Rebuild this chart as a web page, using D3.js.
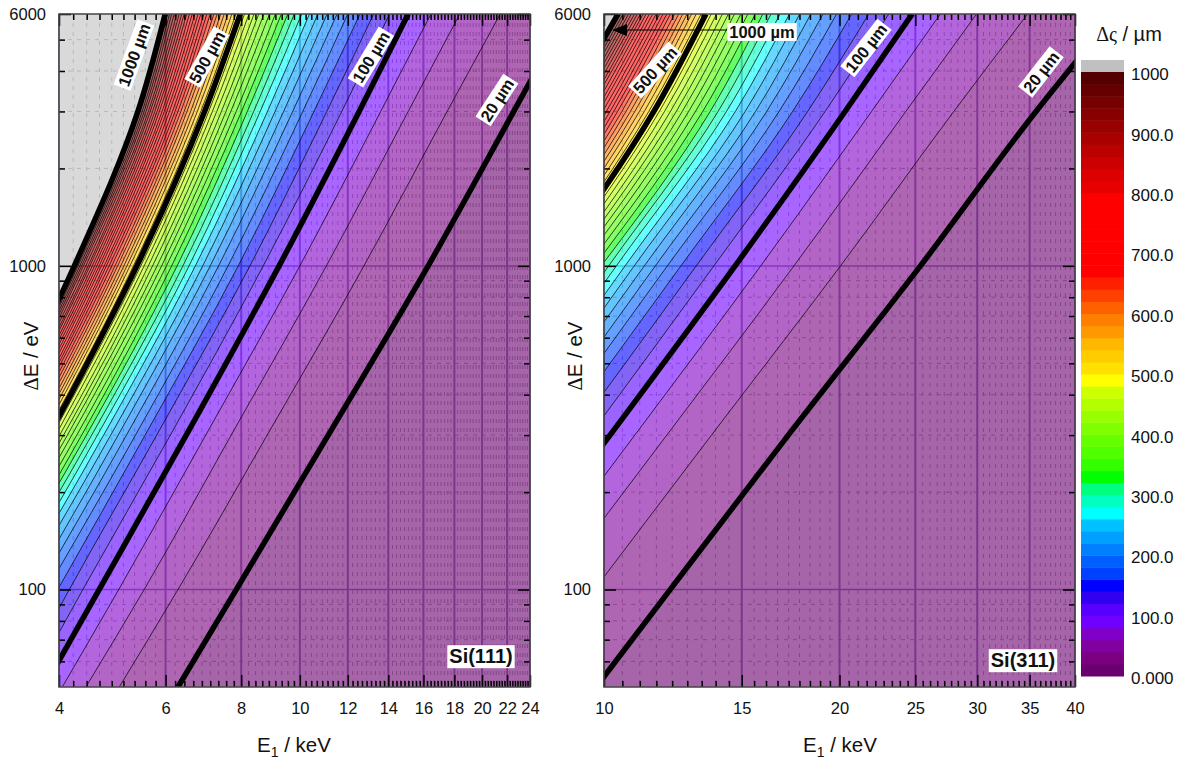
<!DOCTYPE html>
<html>
<head>
<meta charset="utf-8">
<script src="https://cdnjs.cloudflare.com/ajax/libs/d3/7.8.5/d3.min.js"></script>
<style>
    body { margin: 0; background: white; }
    text { font-family: Arial, "Liberation Sans", sans-serif; fill: #111; }
</style>
</head>
<body>
<div id="chart"></div>
<script>
// contour levels, um
const levels = [20,40,60,80,100,120,140,160,180,200,220,240,260,280,300,320,340,360,380,400,
    420,440,460,480,500,520,540,560,580,600,620,640,660,680,700,720,740,760,780,800,
    820,840,860,880,900,920,940,960,980,1000];
const thickLevels = [20, 100, 500, 1000];

// E1 (keV) where each contour crosses a given dE (eV).
// Same order as levels. Shorter arrays: the contour has already left the frame.
const si111At6000 = [27.66,21.43,18.37,16.46,15.10,14.07,13.24,12.57,12.00,11.52,11.09,10.71,10.37,10.07,9.79,9.55,9.32,9.11,8.91,8.72,
    8.55,8.40,8.24,8.10,7.97,7.84,7.72,7.61,7.50,7.40,7.30,7.21,7.11,7.02,6.94,6.86,6.79,6.71,6.64,6.57,
    6.50,6.44,6.38,6.32,6.26,6.20,6.14,6.09,6.04,5.99];
const si111At3000 = [22.56,17.51,15.10,13.60,12.53,11.73,11.08,10.55,10.11,9.73,9.40,9.10,8.84,8.60,8.39,8.19,8.01,7.85,7.69,7.55,
    7.42,7.29,7.17,7.07,6.96,6.86,6.77,6.68,6.60,6.51,6.44,6.36,6.29,6.22,6.16,6.09,6.03,5.97,5.92,5.86,
    5.81,5.76,5.71,5.66,5.62,5.57,5.53,5.49,5.44,5.40];
const si111At1000 = [16.29,12.76,11.06,10.00,9.24,8.70,8.27,7.91,7.61,7.34,7.11,6.91,6.72,6.56,6.41,6.27,6.14,6.02,5.91,5.81,
    5.71,5.62,5.53,5.46,5.38,5.31,5.24,5.18,5.12,5.06,5.00,4.95,4.89,4.84,4.79,4.75,4.70,4.66,4.62,4.58,
    4.54,4.50,4.47,4.43,4.39,4.36,4.33,4.30,4.27,4.24];
const si111At300 = [11.14,8.83,7.70,6.99,6.49,6.11,5.80,5.55,5.35,5.17,5.01,4.87,4.74,4.63,4.53,4.44,4.36,4.28,4.20,4.13,
    4.07,4.01,3.95,3.90,3.85,3.80,3.76,3.72,3.68,3.64,3.60,3.56,3.53,3.49,3.47,3.44,3.41,3.38,3.35,3.32,
    3.30,3.27,3.25,3.23,3.21,3.18,3.16,3.14,3.12,3.10];
const si111At100 = [7.85,6.29,5.53,5.02,4.66,4.38,4.16,3.98,3.82,3.69,3.58,3.47,3.38,3.30,3.22,3.15,3.09,3.03,2.98,2.93,2.88,2.83];
const si111At50 = [6.29,5.03,4.43,4.05,3.78,3.57,3.40];

const si311At6000 = [44.99,34.79,29.94,26.91,24.77,23.12,21.80,20.73,19.83,19.05,18.38,17.79,17.26,16.79,16.35,15.96,15.61,15.27,14.96,14.68,
    14.42,14.17,13.93,13.71,13.50,13.31,13.12,12.94,12.77,12.61,12.46,12.31,12.16,12.03,11.90,11.78,11.66,11.54,11.43,11.32,
    11.22,11.13,11.03,10.94,10.84,10.75,10.66,10.58,10.50,10.42];
const si311At3000 = [35.66,28.00,24.31,21.98,20.33,19.17,18.21,17.42,16.74,16.14,15.62,15.15,14.72,14.34,13.99,13.67,13.37,13.09,12.83,12.59,
    12.37,12.16,11.95,11.77,11.58,11.41,11.26,11.10,10.95,10.81,10.67,10.54,10.41,10.29,10.18,10.07,9.96,9.85,9.76,9.66,
    9.56,9.48,9.39,9.30,9.22,9.14,9.06,8.98,8.91,8.84];
const si311At1000 = [25.38,20.06,17.49,15.86,14.71,13.82,13.12,12.54,12.05,11.63,11.26,10.93,10.64,10.37,10.14,9.92,9.72,9.53,9.35,9.19,
    9.04,8.91,8.77,8.65,8.52,8.41,8.31,8.20,8.11,8.01,7.93,7.84,7.76,7.68,7.61,7.53,7.46,7.40,7.33,7.27,
    7.21,7.15,7.10,7.04,6.99,6.93,6.88,6.84,6.79,6.74];
const si311At300 = [17.20,13.72,12.03,10.95,10.18,9.59,9.12,8.73,8.40,8.12,7.87,7.65,7.45,7.28,7.12];
const si311At100 = [12.15,9.72,8.53,7.78,7.23];
const si311At50 = [9.77];

const deltaERows = [6000, 3000, 1000, 300, 100, 50];

// one colour per 20 um step, bottom of the colour bar first
const bandColors = ['#6a0070','#7a0080','#8000a0','#8000c8','#7000ff','#5800ff','#3000f0','#0000ff','#0040ff','#0060ff',
    '#0080ff','#00a0ff','#00c0ff','#00ffff','#00ffc0','#00ff80','#00ff00','#33ff00','#50ff00','#66ff00',
    '#80ff00','#99ff00','#b3ff00','#ccff00','#ffff00','#ffe000','#ffcc00','#ffb800','#ff9900','#ff8000',
    '#ff6000','#ff4000','#ff2000','#ff0000','#ff0000','#ff0000','#ff0000','#ff0000','#ff0000','#ff0000',
    '#e60000','#dd0000','#cc0000','#bb0000','#aa0000','#990000','#880000','#770000','#660000','#550000'];
const overColor = '#c0c0c0';

const colorTicks = [0, 100, 200, 300, 400, 500, 600, 700, 800, 900, 1000];
const colorTickLabels = ['0.000','100.0','200.0','300.0','400.0','500.0','600.0','700.0','800.0','900.0','1000'];

const yMajor = [1000, 100];
const yLabeled = [6000, 1000, 100];
const yMinor = [5000,4000,3000,2000,900,800,700,600,500,400,300,200,90,80,70,60];

const si111Major = [4,6,8,10,12,14,16,18,20,22,24];
const si311Major = [10,15,20,25,30,35,40];

const svgWidth = 1185, svgHeight = 762;
const plotTop = 14, plotBottom = 687;

const svg = d3.select('#chart').append('svg')
    .attr('width', svgWidth)
    .attr('height', svgHeight);

function minorBetween(major) {
    // 8 minor ticks between two labelled ones
    let out = [];
    for (let i = 0; i < major.length - 1; i++) {
        for (let k = 1; k < 9; k++) {
            out.push(major[i] + (major[i+1] - major[i]) * k / 9);
        }
    }
    return out;
}

function drawPanel(p) {
    const x = d3.scaleLog().domain(p.xDomain).range([p.left, p.right]);
    const y = d3.scaleLog().domain([50, 6000]).range([plotBottom, plotTop]);
    const g = svg.append('g');
    const xMinor = minorBetween(p.xMajor);

    g.append('clipPath').attr('id', p.id)
        .append('rect')
        .attr('x', p.left).attr('y', plotTop)
        .attr('width', p.right - p.left).attr('height', plotBottom - plotTop);

    // grid sits under the translucent colour fill
    const grid = g.append('g');
    grid.selectAll('.vminor').data(xMinor).enter().append('line')
        .attr('x1', d => x(d)).attr('x2', d => x(d)).attr('y1', plotTop).attr('y2', plotBottom)
        .attr('stroke', '#b0b0b0').attr('stroke-dasharray', '4 5');
    grid.selectAll('.hminor').data(yMinor).enter().append('line')
        .attr('y1', d => y(d)).attr('y2', d => y(d)).attr('x1', p.left).attr('x2', p.right)
        .attr('stroke', '#b0b0b0').attr('stroke-dasharray', '4 5');
    grid.selectAll('.vmajor').data(p.xMajor).enter().append('line')
        .attr('x1', d => x(d)).attr('x2', d => x(d)).attr('y1', plotTop).attr('y2', plotBottom)
        .attr('stroke', '#9488b4').attr('stroke-width', 2);
    grid.selectAll('.hmajor').data(yMajor).enter().append('line')
        .attr('y1', d => y(d)).attr('y2', d => y(d)).attr('x1', p.left).attr('x2', p.right)
        .attr('stroke', '#9488b4').attr('stroke-width', 1.5);

    // contour polylines, one per level
    const contours = levels.map((level, i) => {
        const pts = [];
        p.rows.forEach((row, r) => {
            if (row[i] !== undefined) pts.push([row[i], deltaERows[r]]);
        });
        return { level: level, pts: pts };
    });

    const line = d3.line()
        .x(d => x(d[0]))
        .y(d => y(d[1]))
        .curve(d3.curveMonotoneY);

    const plot = g.append('g').attr('clip-path', 'url(#' + p.id + ')');

    // painted low to high, each level covers everything up and left of it
    const fills = plot.append('g').attr('opacity', 0.6);
    fills.append('rect')
        .attr('x', p.left).attr('y', plotTop)
        .attr('width', p.right - p.left).attr('height', plotBottom - plotTop)
        .attr('fill', bandColors[0]);
    fills.selectAll('path').data(contours).enter().append('path')
        .attr('d', d => {
            const last = d.pts[d.pts.length - 1];
            return line(d.pts) + 'L' + (p.left - 300) + ',' + y(last[1]) + 'L' + (p.left - 300) + ',' + y(6000) + 'Z';
        })
        .attr('fill', (d, i) => i + 1 < bandColors.length ? bandColors[i + 1] : overColor);

    plot.selectAll('.thin').data(contours.filter(d => !thickLevels.includes(d.level))).enter().append('path')
        .attr('d', d => line(d.pts))
        .attr('fill', 'none').attr('stroke', '#000').attr('stroke-width', 1).attr('stroke-opacity', 0.72);
    plot.selectAll('.thick').data(contours.filter(d => thickLevels.includes(d.level))).enter().append('path')
        .attr('d', d => line(d.pts))
        .attr('fill', 'none').attr('stroke', '#000').attr('stroke-width', 5.5);

    // ticks on all four sides, pointing inward
    const ax = g.append('g');
    const place = (axis, tx, ty) => ax.append('g')
        .attr('transform', 'translate(' + tx + ',' + ty + ')')
        .call(axis)
        .call(s => s.select('.domain').remove());

    place(d3.axisBottom(x).tickValues(p.xMajor).tickFormat(d3.format('d')).tickSizeInner(-12).tickSizeOuter(0).tickPadding(15), 0, plotBottom);
    place(d3.axisBottom(x).tickValues(xMinor).tickFormat('').tickSizeInner(-6).tickSizeOuter(0), 0, plotBottom);
    place(d3.axisTop(x).tickValues(p.xMajor).tickFormat('').tickSizeInner(-12).tickSizeOuter(0), 0, plotTop);
    place(d3.axisTop(x).tickValues(xMinor).tickFormat('').tickSizeInner(-6).tickSizeOuter(0), 0, plotTop);
    place(d3.axisLeft(y).tickValues(yLabeled).tickFormat(d3.format('d')).tickSizeInner(-12).tickSizeOuter(0).tickPadding(13), p.left, 0);
    place(d3.axisLeft(y).tickValues(yMinor).tickFormat('').tickSizeInner(-6).tickSizeOuter(0), p.left, 0);
    place(d3.axisRight(y).tickValues(yLabeled).tickFormat('').tickSizeInner(-12).tickSizeOuter(0), p.right, 0);
    place(d3.axisRight(y).tickValues(yMinor).tickFormat('').tickSizeInner(-6).tickSizeOuter(0), p.right, 0);
    ax.selectAll('.tick line').attr('stroke', '#000').attr('stroke-width', 1.5);
    ax.selectAll('text').attr('font-size', 16.5).attr('font-family', 'Arial, "Liberation Sans", sans-serif').attr('fill', '#111');

    g.append('rect')
        .attr('x', p.left).attr('y', plotTop)
        .attr('width', p.right - p.left).attr('height', plotBottom - plotTop)
        .attr('fill', 'none').attr('stroke', '#444').attr('stroke-width', 1.5);

    // axis titles
    const xTitle = g.append('text')
        .attr('x', p.xTitleX).attr('y', 752)
        .attr('text-anchor', 'middle').attr('font-size', 20.5);
    xTitle.append('tspan').text('E');
    xTitle.append('tspan').attr('dy', 5).attr('font-size', 14).text('1');
    xTitle.append('tspan').attr('dy', -5).text(' / keV');

    const yTitle = g.append('text')
        .attr('transform', 'translate(' + p.yTitleX + ',356) rotate(-90)')
        .attr('text-anchor', 'middle').attr('font-size', 20.5);
    yTitle.append('tspan').attr('font-family', '"Liberation Serif", serif').text('\u0394');
    yTitle.append('tspan').text('E / eV');

    // contour labels on white boxes
    p.labels.forEach(l => {
        const t = g.append('g').attr('transform', 'translate(' + l.x + ',' + l.y + ') rotate(' + l.angle + ')');
        const txt = t.append('text')
            .attr('text-anchor', 'middle').attr('dy', '0.36em')
            .attr('font-size', 16.5).attr('font-weight', 'bold').attr('fill', '#000')
            .text(l.text);
        const b = txt.node().getBBox();
        t.insert('rect', 'text')
            .attr('x', b.x - 2).attr('y', b.y).attr('width', b.width + 4).attr('height', b.height)
            .attr('fill', 'white');
    });

    // crystal name box
    const name = g.append('g').attr('transform', 'translate(' + p.nameX + ',' + p.nameY + ')');
    const nameText = name.append('text')
        .attr('text-anchor', 'middle').attr('dy', '0.36em')
        .attr('font-size', 20).attr('font-weight', 'bold').attr('fill', '#000')
        .text(p.name);
    const nb = nameText.node().getBBox();
    name.insert('rect', 'text')
        .attr('x', nb.x - 2).attr('y', nb.y).attr('width', nb.width + 4).attr('height', nb.height + 1)
        .attr('fill', 'white');
}

drawPanel({
    id: 'clip111', name: 'Si(111)',
    left: 59, right: 530,
    xDomain: [4, 24], xMajor: si111Major,
    rows: [si111At6000, si111At3000, si111At1000, si111At300, si111At100, si111At50],
    xTitleX: 294, yTitleX: 38,
    nameX: 481, nameY: 656,
    labels: [
        { text: '1000 \u00b5m', x: 134, y: 55, angle: -70 },
        { text: '500 \u00b5m', x: 207, y: 57, angle: -61 },
        { text: '100 \u00b5m', x: 371, y: 57, angle: -59 },
        { text: '20 \u00b5m', x: 497, y: 100, angle: -57 }
    ]
});

drawPanel({
    id: 'clip311', name: 'Si(311)',
    left: 604, right: 1075,
    xDomain: [10, 40], xMajor: si311Major,
    rows: [si311At6000, si311At3000, si311At1000, si311At300, si311At100, si311At50],
    xTitleX: 840, yTitleX: 582,
    nameX: 1023, nameY: 660,
    labels: [
        { text: '500 \u00b5m', x: 655, y: 70, angle: -48 },
        { text: '100 \u00b5m', x: 866, y: 48, angle: -52 },
        { text: '20 \u00b5m', x: 1041, y: 72, angle: -52 },
        { text: '1000 \u00b5m', x: 762, y: 32, angle: 0 }
    ]
});

// arrow from the unrotated 1000 um label to its contour
svg.append('line')
    .attr('x1', 727).attr('y1', 30).attr('x2', 622).attr('y2', 30)
    .attr('stroke', '#000').attr('stroke-width', 1.2);
svg.append('path')
    .attr('d', 'M612,30L627,24L627,36Z')
    .attr('fill', '#000');

// colour bar
const barY = d3.scaleLinear().domain([0, 1000]).range([676, 72]);
const barLeft = 1081, barWidth = 43;
const bar = svg.append('g');
bar.selectAll('rect').data(bandColors).enter().append('rect')
    .attr('x', barLeft).attr('width', barWidth)
    .attr('y', (d, i) => barY((i + 1) * 20))
    .attr('height', (d, i) => barY(i * 20) - barY((i + 1) * 20) + 0.5)
    .attr('fill', d => d);
bar.append('rect')
    .attr('x', barLeft).attr('width', barWidth)
    .attr('y', 60).attr('height', 12)
    .attr('fill', overColor);
bar.selectAll('text').data(colorTicks).enter().append('text')
    .attr('x', 1131)
    .attr('y', d => barY(d) + 2)
    .attr('dy', '0.36em')
    .attr('font-size', 17)
    .text((d, i) => colorTickLabels[i]);

const barTitle = svg.append('text')
    .attr('x', 1129).attr('y', 41)
    .attr('text-anchor', 'middle').attr('font-size', 20);
barTitle.append('tspan').attr('font-family', '"Liberation Serif", serif').text('\u0394\u03c2');
barTitle.append('tspan').text(' / \u00b5m');
</script>
</body>
</html>
